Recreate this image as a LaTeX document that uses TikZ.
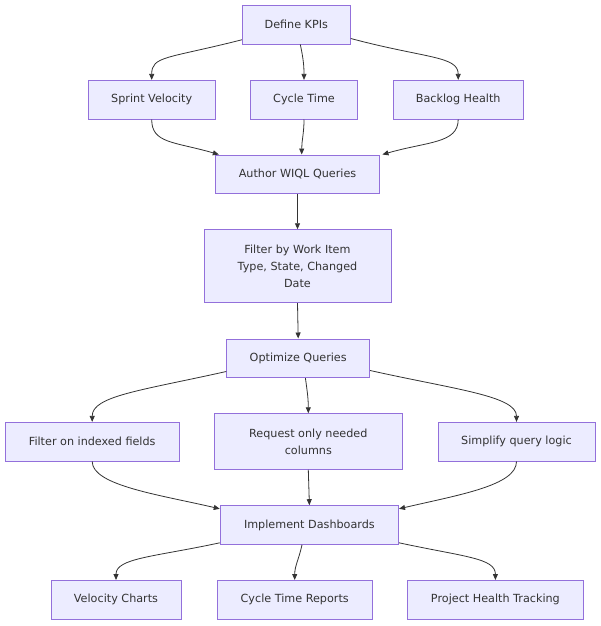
\documentclass[tikz,border=0pt]{standalone}
\usepackage{fontspec}
\setmainfont{DejaVu Sans}
\usetikzlibrary{arrows.meta}
\definecolor{nodefill}{HTML}{ECECFF}
\definecolor{nodeline}{HTML}{9370DB}
\definecolor{txt}{HTML}{333333}
\definecolor{edgecol}{HTML}{333333}
\tikzset{
  box/.style={draw=nodeline, fill=nodefill, line width=0.9pt, text=txt,
    minimum height=38.7pt, inner sep=0pt, align=center,
    font=\fontsize{11.2}{16.8}\selectfont},
  edge/.style={draw=edgecol, line width=0.8pt,
    -{Triangle[length=6pt,width=5pt]}}
}
\begin{document}
\begin{tikzpicture}[x=1pt,y=-1pt]
\useasboundingbox (0,0) rectangle (600,626);

\node[box, minimum width=108pt] (kpi) at (296.3,24.7) {Define KPIs};
\node[box, minimum width=126.7pt] (sv) at (151.7,99.7) {Sprint Velocity};
\node[box, minimum width=106.7pt] (ct) at (304,99.7) {Cycle Time};
\node[box, minimum width=130.3pt] (bh) at (458.2,99.7) {Backlog Health};
\node[box, minimum width=163.6pt] (wiql) at (297.5,174.3) {Author WIQL Queries};
\node[box, minimum width=187pt, minimum height=73pt] (filt) at (297.5,266.2) {Filter by Work Item\\Type, State, Changed\\Date};
\node[box, minimum width=143pt] (opt) at (298.2,358.3) {Optimize Queries};
\node[box, minimum width=173.6pt] (fi) at (92.2,441.7) {Filter on indexed fields};
\node[box, minimum width=187.4pt, minimum height=55.6pt] (rq) at (308.3,441.5) {Request only needed\\columns};
\node[box, minimum width=157pt] (sq) at (516.5,441.7) {Simplify query logic};
\node[box, minimum width=178.4pt] (imp) at (309.4,525) {Implement Dashboards};
\node[box, minimum width=130pt] (vc) at (116,599.8) {Velocity Charts};
\node[box, minimum width=154.7pt] (ctr) at (294.7,599.8) {Cycle Time Reports};
\node[box, minimum width=176.2pt] (ph) at (495.4,599.8) {Project Health Tracking};

% Define KPIs -> metrics
\draw[edge] ([yshift=4.7pt]kpi.south west) .. controls +(-75,19) and +(0,-24) .. (sv.north);
\draw[edge] ([xshift=4pt]kpi.south) .. controls +(3,14) and +(0,-14) .. (ct.north);
\draw[edge] ([yshift=6pt]kpi.south east) .. controls +(75,20) and +(0,-24) .. (bh.north);

% metrics -> WIQL
\draw[edge] (sv.south) .. controls +(0,24) and +(-45,-13) .. ([xshift=3.6pt]wiql.north west);
\draw[edge] (ct.south) .. controls +(0,14) and +(0,-14) .. ([xshift=4.2pt]wiql.north);
\draw[edge] (bh.south) .. controls +(0,24) and +(45,-13) .. ([xshift=2.7pt]wiql.north east);

\draw[edge] (wiql.south) -- (filt.north);
\draw[edge] (filt.south) -- (opt.north);

% Optimize -> tips
\draw[edge] ([yshift=6.6pt]opt.south west) .. controls +(-85,19) and +(0,-26) .. (fi.north);
\draw[edge] ([xshift=7.2pt]opt.south) .. controls +(2,14) and +(0,-14) .. (rq.north);
\draw[edge] ([yshift=7.6pt]opt.south east) .. controls +(85,19) and +(0,-26) .. (sq.north);

% tips -> Implement
\draw[edge] (fi.south) .. controls +(0,24) and +(-60,-14) .. ([yshift=-3.6pt]imp.north west);
\draw[edge] (rq.south) -- (imp.north);
\draw[edge] (sq.south) .. controls +(0,24) and +(60,-14) .. ([yshift=-3.6pt]imp.north east);

% Implement -> outputs
\draw[edge] ([yshift=2pt]imp.south west) .. controls +(-65,14) and +(0,-22) .. (vc.north);
\draw[edge] ([xshift=-7.4pt]imp.south) .. controls +(-3,14) and +(0,-14) .. (ctr.north);
\draw[edge] ([yshift=2pt]imp.south east) .. controls +(65,14) and +(0,-22) .. (ph.north);
\end{tikzpicture}
\end{document}
